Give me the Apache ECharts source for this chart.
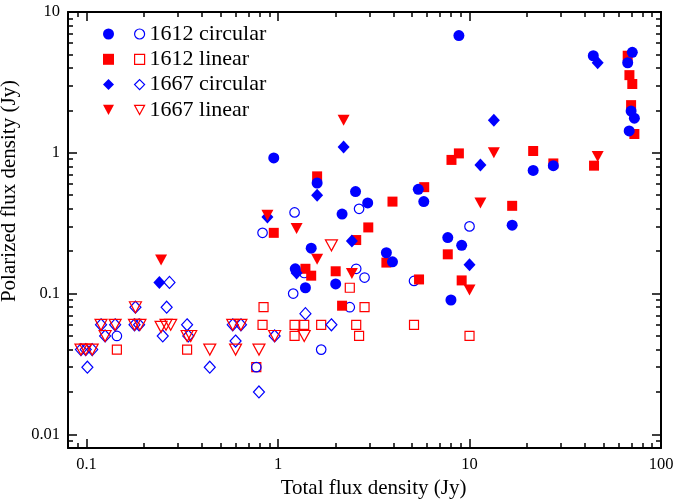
<!DOCTYPE html>
<html><head><meta charset="utf-8">
<script src="https://cdn.jsdelivr.net/npm/echarts@6/dist/echarts.min.js"></script>
<style>html,body{margin:0;padding:0;background:#fff}#c{width:675px;height:504px}</style>
</head><body><div id="c"></div>
<script>
// ---- axis ranges and tick labels ----
const xRange = [0.08, 100];
const yRange = [0.008, 10];
const xTickValues = [0.1, 1, 10, 100];
const xTickLabels = ['0.1', '1', '10', '100'];
const yTickValues = [0.01, 0.1, 1, 10];
const yTickLabels = ['0.01', '0.1', '1', '10'];
const xTitle = 'Total flux density (Jy)';
const yTitle = 'Polarized flux density (Jy)';

// ---- data (Total flux density, Polarized flux density) ----
const circ1612FilledX = [0.95, 1.6, 2.54, 2.94, 2.16, 5.4, 5.77, 1.49, 3.68, 3.96, 1.23, 1.39, 2.0, 21.5, 27.4, 16.7, 7.7, 9.1, 8.0, 8.8, 44.3, 70.8, 67, 69.8, 72.6, 68.2];
const circ1612FilledY = [0.92, 0.61, 0.53, 0.44, 0.367, 0.55, 0.45, 0.21, 0.195, 0.168, 0.15, 0.11, 0.117, 0.75, 0.81, 0.306, 0.25, 0.22, 0.09, 6.8, 4.89, 5.17, 4.36, 1.98, 1.76, 1.43];
const circ1612OpenX = [2.65, 1.22, 0.83, 1.37, 1.2, 2.56, 2.83, 2.37, 10.0, 5.13, 0.144, 1.68, 0.77];
const circ1612OpenY = [0.40, 0.377, 0.27, 0.14, 0.1, 0.15, 0.13, 0.08, 0.30, 0.123, 0.05, 0.04, 0.03];
const lin1612FilledX = [1.6, 3.96, 5.8, 8.05, 8.8, 0.95, 2.96, 2.56, 3.68, 1.39, 1.49, 2.0, 2.16, 21.5, 27.4, 44.7, 16.7, 7.7, 5.45, 9.1, 67, 68.4, 70.8, 69.8, 72.6];
const lin1612FilledY = [0.68, 0.45, 0.57, 0.89, 0.99, 0.27, 0.295, 0.24, 0.166, 0.15, 0.134, 0.144, 0.082, 1.03, 0.84, 0.81, 0.42, 0.19, 0.126, 0.124, 4.89, 3.56, 3.08, 2.18, 1.36];
const lin1612OpenX = [0.144, 0.335, 0.77, 0.84, 0.83, 1.22, 1.22, 2.37, 2.83, 1.37, 1.68, 2.56, 5.13, 2.65, 10.0];
const lin1612OpenY = [0.04, 0.04, 0.03, 0.08, 0.06, 0.06, 0.05, 0.11, 0.08, 0.06, 0.06, 0.06, 0.06, 0.05, 0.05];
const circ1667FilledX = [0.24, 2.2, 1.6, 0.88, 2.43, 1.25, 11.4, 10.0, 13.4, 46.7];
const circ1667FilledY = [0.12, 1.1, 0.5, 0.35, 0.236, 0.14, 0.82, 0.16, 1.7, 4.36];
const circ1667OpenX = [0.0935, 0.099, 0.107, 0.101, 0.119, 0.141, 0.125, 0.18, 0.178, 0.188, 0.271, 0.262, 0.25, 0.335, 0.34, 0.44, 0.58, 0.64, 0.6, 0.795, 0.96, 1.39, 1.9];
const circ1667OpenY = [0.04, 0.04, 0.04, 0.03, 0.06, 0.06, 0.05, 0.08, 0.06, 0.06, 0.12, 0.08, 0.05, 0.06, 0.05, 0.03, 0.06, 0.06, 0.046, 0.02, 0.05, 0.072, 0.06];
const lin1667FilledX = [2.2, 0.245, 0.88, 1.25, 1.6, 2.43, 13.4, 46.7, 11.4, 10.0];
const lin1667FilledY = [1.7, 0.173, 0.36, 0.29, 0.175, 0.139, 1.0, 0.94, 0.44, 0.106];
const lin1667OpenX = [0.0935, 0.099, 0.107, 0.119, 0.141, 0.125, 0.18, 0.178, 0.19, 0.245, 0.26, 0.275, 0.335, 0.35, 0.44, 0.58, 0.64, 0.6, 0.795, 0.96, 1.9, 1.37];
const lin1667OpenY = [0.04, 0.04, 0.04, 0.06, 0.06, 0.05, 0.08, 0.06, 0.06, 0.058, 0.06, 0.06, 0.05, 0.05, 0.04, 0.06, 0.06, 0.04, 0.04, 0.05, 0.22, 0.05];

const legendLabels = ['1612 circular', '1612 linear', '1667 circular', '1667 linear'];

// ---- styling ----
const SERIF = 'Liberation Serif';
const BLUE = '#0000ff', RED = '#ff0000';
const L = Math.log10;
const DOWN_TRI = 'path://M0,0L12,0L6,11Z';

function minorTicks(lo, hi) {
  const out = [];
  for (let d = Math.floor(L(lo)); d <= Math.ceil(L(hi)); d++) {
    for (let m = 2; m <= 9; m++) {
      const v = m * Math.pow(10, d);
      if (v > lo && v < hi) out.push(L(v));
    }
  }
  return out;
}

const groups = [
  {label: legendLabels[1], fx: lin1612FilledX, fy: lin1612FilledY, ox: lin1612OpenX, oy: lin1612OpenY, color: RED, symbol: 'rect', fs: 10, os: 9, rot: 0},
  {label: legendLabels[0], fx: circ1612FilledX, fy: circ1612FilledY, ox: circ1612OpenX, oy: circ1612OpenY, color: BLUE, symbol: 'circle', fs: 11, os: 9.5, rot: 0},
  {label: legendLabels[2], fx: circ1667FilledX, fy: circ1667FilledY, ox: circ1667OpenX, oy: circ1667OpenY, color: BLUE, symbol: 'diamond', fs: [12, 13], os: [11, 12], rot: 0},
  {label: legendLabels[3], fx: lin1667FilledX, fy: lin1667FilledY, ox: lin1667OpenX, oy: lin1667OpenY, color: RED, symbol: 'triangle', fs: [12, 11], os: [12, 11], rot: 180}
];

const series = [];
groups.forEach(g => {
  series.push({
    type: 'scatter', name: g.label + ' \u00b7 open', xAxisIndex: 0, yAxisIndex: 0,
    data: g.ox.map((v, i) => [v, g.oy[i]]),
    symbol: g.symbol, symbolSize: g.os, symbolRotate: g.rot,
    itemStyle: {color: 'rgba(0,0,0,0)', borderColor: g.color, borderWidth: 1.2, opacity: 1},
    emphasis: {disabled: true}, z: 2
  });
});
groups.forEach(g => {
  series.push({
    type: 'scatter', name: g.label + ' \u00b7 filled', xAxisIndex: 0, yAxisIndex: 0,
    data: g.fx.map((v, i) => [v, g.fy[i]]),
    symbol: g.symbol, symbolSize: g.fs, symbolRotate: g.rot,
    itemStyle: {color: g.color, borderWidth: 0, opacity: 1},
    emphasis: {disabled: true}, z: 3
  });
});

const xMajor = xTickValues.map(L), yMajor = yTickValues.map(L);
const xMinor = minorTicks(xRange[0], xRange[1]).filter(v => xMajor.every(m => Math.abs(m - v) > 1e-9));
const yMinor = minorTicks(yRange[0], yRange[1]).filter(v => yMajor.every(m => Math.abs(m - v) > 1e-9));
const xLab = v => { const i = xMajor.findIndex(m => Math.abs(m - v) < 1e-6); return i < 0 ? '' : xTickLabels[i]; };
const yLab = v => { const i = yMajor.findIndex(m => Math.abs(m - v) < 1e-6); return i < 0 ? '' : yTickLabels[i]; };

function tickAxis(pos, range, ticks, len, showLine, labelOpt, extra) {
  return Object.assign({
    type: 'value', position: pos, min: L(range[0]), max: L(range[1]),
    axisLine: {show: showLine, onZero: false, lineStyle: {color: '#000', width: 2}},
    axisTick: {show: true, inside: true, length: len, customValues: ticks, lineStyle: {color: '#000', width: 1.5}},
    axisLabel: labelOpt || {show: false},
    splitLine: {show: false}, splitArea: {show: false}, silent: true
  }, extra || {});
}

const labelBase = {show: true, color: '#000', fontFamily: SERIF, fontSize: 16.5};

function legendData(kind) {
  return ['1612 circular', '1612 linear', '1667 circular', '1667 linear'].map(lbl => {
    const g = groups.find(gg => gg.label === lbl);
    const item = {name: lbl + ' \u00b7 ' + kind};
    if (g.rot === 180) item.icon = DOWN_TRI;
    return item;
  });
}

const option = {
  animation: false,
  backgroundColor: '#fff',
  textStyle: {fontFamily: SERIF},
  grid: {left: 68, right: 14, top: 12, bottom: 56, containLabel: false, outerBoundsMode: 'none'},
  legend: [
    {
      orient: 'vertical', left: 103, top: 23, padding: 0, itemGap: 3.3, itemWidth: 11, itemHeight: 11,
      selectedMode: false, data: legendData('filled'),
      formatter: () => ' ', itemStyle: {borderWidth: 0, opacity: 1},
      textStyle: {fontFamily: SERIF, fontSize: 22, lineHeight: 22, color: '#000'}
    },
    {
      orient: 'vertical', left: 134, top: 23, padding: 0, itemGap: 3.3, itemWidth: 10, itemHeight: 10,
      selectedMode: false, data: legendData('open'),
      formatter: n => n.replace(' \u00b7 open', ''), itemStyle: {borderWidth: 1.2, opacity: 1},
      textStyle: {fontFamily: SERIF, fontSize: 22, lineHeight: 22, color: '#000'}
    }
  ],
  xAxis: [
    {type: 'log', logBase: 10, min: xRange[0], max: xRange[1], show: false},
    tickAxis('bottom', xRange, xMajor, 9, true,
      Object.assign({customValues: xMajor, formatter: xLab, margin: 8}, labelBase),
      {name: xTitle, nameLocation: 'middle', nameGap: 30,
       nameTextStyle: {fontFamily: SERIF, fontSize: 21, color: '#000', padding: [0, 0, 0, 18]}}),
    tickAxis('bottom', xRange, xMinor, 5, false),
    tickAxis('top', xRange, xMajor, 9, true),
    tickAxis('top', xRange, xMinor, 5, false)
  ],
  yAxis: [
    {type: 'log', logBase: 10, min: yRange[0], max: yRange[1], show: false},
    tickAxis('left', yRange, yMajor, 9, true,
      Object.assign({customValues: yMajor, formatter: yLab, margin: 8}, labelBase),
      {name: yTitle, nameLocation: 'middle', nameGap: 39, nameRotate: 90,
       nameTextStyle: {fontFamily: SERIF, fontSize: 21, color: '#000', padding: [0, 0, 0, 78]}}),
    tickAxis('left', yRange, yMinor, 5, false),
    tickAxis('right', yRange, yMajor, 9, true),
    tickAxis('right', yRange, yMinor, 5, false)
  ],
  series: series
};

const chart = echarts.init(document.getElementById('c'), null, {renderer: 'canvas'});
chart.setOption(option);
</script>
</body></html>
